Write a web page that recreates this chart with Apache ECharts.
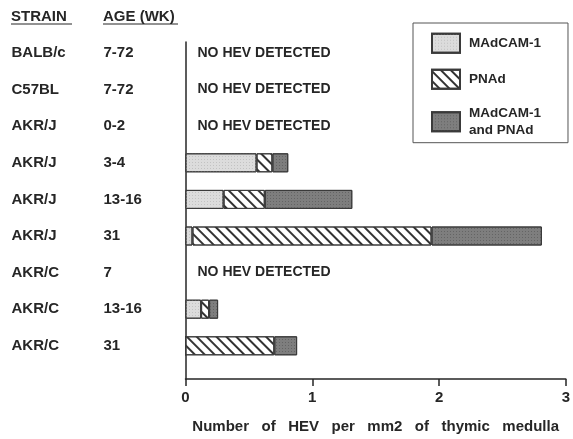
<!DOCTYPE html>
<html>
<head>
<meta charset="utf-8">
<script src="https://cdn.jsdelivr.net/npm/echarts@6/dist/echarts.min.js"></script>
<style>html,body{margin:0;padding:0;background:#fff;}#c{width:573px;height:439px;}</style>
</head>
<body>
<div id="c"></div>
<script>
// ---- data ----
var strains = ['BALB/c','C57BL','AKR/J','AKR/J','AKR/J','AKR/J','AKR/C','AKR/C','AKR/C'];
var ages    = ['7-72','7-72','0-2','3-4','13-16','31','7','13-16','31'];
var madcam  = ['-','-','-',0.56,0.30,0.055,'-',0.123,0];
var pnad    = ['-','-','-',0.125,0.325,1.885,'-',0.063,0.70];
var both    = ['-','-','-',0.125,0.69,0.87,'-',0.071,0.18];
var noHev   = [0,0,0,'-','-','-',0,'-','-'];
var xTicks  = [0,1,2,3];
var seriesNames = ['MAdCAM-1','PNAd','MAdCAM-1 and PNAd'];

var FONT = '"Liberation Sans", Arial, Helvetica, sans-serif';
var INK = '#262626';
var cats = strains.map(function(s,i){return i;});

var chart = echarts.init(document.getElementById('c'));
var barStyleBase = {borderColor:'#3a3a3a', borderWidth:1};
chart.setOption({
  animation:false,
  backgroundColor:'#fff',
  textStyle:{fontFamily:FONT},
  grid:[
    {left:185.5, right:7, top:34.7, height:329.4},
    {left:185.5, right:7, top:42, bottom:57}
  ],
  xAxis:[
    {gridIndex:0, type:'value', min:0, max:3, show:false},
    {gridIndex:1, type:'value', min:xTicks[0], max:xTicks[xTicks.length-1], interval:1,
      axisLine:{show:true, lineStyle:{color:INK, width:1.5}},
      axisTick:{show:true, length:7, lineStyle:{color:INK, width:1.5}},
      splitLine:{show:false},
      axisLabel:{color:INK, fontSize:15, fontWeight:'bold', margin:11, fontFamily:FONT},
      name:'Number   of   HEV   per   mm2   of   thymic   medulla',
      nameLocation:'middle', nameGap:40,
      nameTextStyle:{color:INK, fontSize:15, fontWeight:'bold', fontFamily:FONT}
    }
  ],
  yAxis:[
    {gridIndex:0, type:'category', inverse:true, data:cats,
      axisLine:{show:false}, axisTick:{show:false}, splitLine:{show:false},
      axisLabel:{align:'left', margin:174, color:INK,
        formatter:function(v){var i=+v; return '{s|'+strains[i]+'}{a|'+ages[i]+'}';},
        rich:{
          s:{width:92, fontSize:15, fontWeight:'bold', color:INK, fontFamily:FONT},
          a:{fontSize:15, fontWeight:'bold', color:INK, fontFamily:FONT}
        }
      }
    },
    {gridIndex:1, type:'value', min:0, max:1,
      axisLine:{show:true, lineStyle:{color:INK, width:1.5}},
      axisTick:{show:false}, axisLabel:{show:false}, splitLine:{show:false}
    }
  ],
  legend:{
    left:413, top:23, orient:'vertical',
    data:seriesNames,
    itemWidth:28, itemHeight:19, itemGap:15,
    padding:[9.7, 27, 4, 18],
    borderColor:'#555', borderWidth:1,
    icon:'rect',
    selectedMode:false,
    formatter:function(n){return n==='MAdCAM-1 and PNAd' ? 'MAdCAM-1\nand PNAd' : n;},
    textStyle:{color:INK, fontSize:13.5, fontWeight:'bold', lineHeight:17, padding:[0,0,0,4], fontFamily:FONT}
  },
  graphic:[
    {type:'text', left:11, top:9, style:{text:'STRAIN', fill:INK, font:'bold 15px '+FONT}},
    {type:'text', left:103, top:9, style:{text:'AGE (WK)', fill:INK, font:'bold 15px '+FONT}},
    {type:'line', shape:{x1:11, y1:24, x2:72, y2:24}, style:{stroke:INK, lineWidth:1.2}},
    {type:'line', shape:{x1:103, y1:24, x2:178, y2:24}, style:{stroke:INK, lineWidth:1.2}}
  ],
  series:[
    {name:seriesNames[0], type:'bar', stack:'t', xAxisIndex:0, yAxisIndex:0, barWidth:19, data:madcam,
      itemStyle:Object.assign({color:'#dcdcdc',
        decal:{symbol:'rect', symbolSize:1, dashArrayX:[1,2], dashArrayY:[1,2], color:'#c2c2c2'}}, barStyleBase)},
    {name:seriesNames[1], type:'bar', stack:'t', xAxisIndex:0, yAxisIndex:0, barWidth:19, data:pnad,
      itemStyle:Object.assign({color:'#ffffff',
        decal:{symbol:'rect', symbolSize:1, dashArrayX:[1,0], dashArrayY:[1.3,4.7], rotation:Math.PI/4, color:'#333333'}}, barStyleBase)},
    {name:seriesNames[2], type:'bar', stack:'t', xAxisIndex:0, yAxisIndex:0, barWidth:19, data:both,
      itemStyle:Object.assign({color:'#7e7e7e',
        decal:{symbol:'rect', symbolSize:1, dashArrayX:[1,2], dashArrayY:[1,2], color:'#646464'}}, barStyleBase)},
    {name:'note', type:'bar', stack:'t', xAxisIndex:0, yAxisIndex:0, barWidth:19, data:noHev,
      itemStyle:{color:'rgba(0,0,0,0)', borderWidth:0},
      label:{show:true, position:'right', distance:12, formatter:'NO HEV DETECTED',
        color:INK, fontSize:14, fontWeight:'bold', fontFamily:FONT}
    }
  ]
});
</script>
</body>
</html>
